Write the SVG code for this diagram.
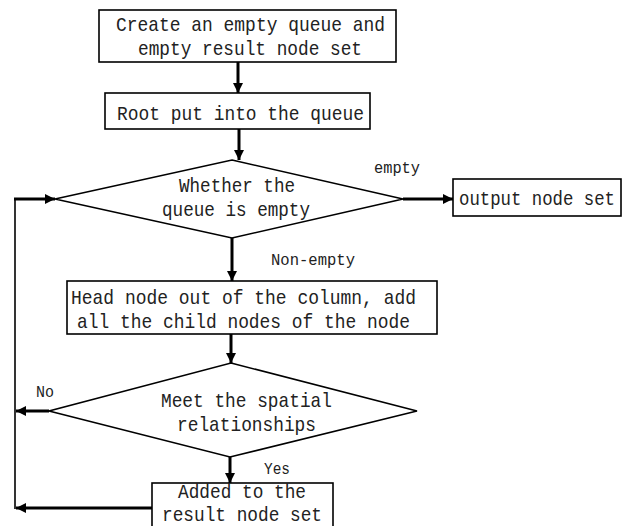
<svg xmlns="http://www.w3.org/2000/svg" width="627" height="526" viewBox="0 0 627 526">
  <style>
    .box { fill: #fff; stroke: #000; stroke-width: 1.6; }
    .txt { font-family: "Liberation Mono", "DejaVu Sans Mono", monospace; font-size: 21px; fill: #222; }
    .lbl { font-family: "Liberation Mono", "DejaVu Sans Mono", monospace; font-size: 17px; fill: #222; }
    .edge { fill: none; stroke: #000; stroke-width: 3; }
    .thin { fill: none; stroke: #000; stroke-width: 1.6; }
  </style>
  <defs>
    <marker id="arrow" viewBox="0 0 10 10" refX="10" refY="5" markerWidth="11" markerHeight="10" markerUnits="userSpaceOnUse" orient="auto">
      <path d="M0,0 L10,5 L0,10 Z" fill="#000"/>
    </marker>
  </defs>

  <rect width="627" height="526" fill="#fff"/>

  <g id="connectors">
    <line class="edge" x1="238" y1="62" x2="238" y2="93" marker-end="url(#arrow)"/>
    <line class="edge" x1="239" y1="129" x2="239" y2="160" marker-end="url(#arrow)"/>
    <line class="edge" x1="403" y1="199" x2="453" y2="199" marker-end="url(#arrow)"/>
    <line class="edge" x1="232" y1="238" x2="232" y2="281" marker-end="url(#arrow)"/>
    <line class="edge" x1="231" y1="334" x2="231" y2="363" marker-end="url(#arrow)"/>
    <line class="edge" x1="230" y1="457" x2="230" y2="483" marker-end="url(#arrow)"/>
    <line class="edge" x1="49" y1="411" x2="16" y2="411" marker-end="url(#arrow)"/>
    <line class="edge" x1="152" y1="508" x2="16" y2="508" marker-end="url(#arrow)"/>
    <line class="thin" x1="15" y1="509" x2="15" y2="198"/>
    <line class="edge" x1="14" y1="199" x2="55" y2="199" marker-end="url(#arrow)"/>
    <text class="lbl" x="374" y="173" textLength="46" lengthAdjust="spacingAndGlyphs">empty</text>
    <text class="lbl" x="271" y="265" textLength="84" lengthAdjust="spacingAndGlyphs">Non-empty</text>
    <text class="lbl" x="36" y="397" textLength="18" lengthAdjust="spacingAndGlyphs">No</text>
    <text class="lbl" x="264" y="474" textLength="26" lengthAdjust="spacingAndGlyphs">Yes</text>
  </g>

  <g id="create">
    <rect class="box" x="99" y="10" width="297" height="52"/>
    <text class="txt" x="116" y="31" textLength="269" lengthAdjust="spacingAndGlyphs">Create an empty queue and</text>
    <text class="txt" x="138" y="55" textLength="224" lengthAdjust="spacingAndGlyphs">empty result node set</text>
  </g>

  <g id="root">
    <rect class="box" x="105" y="93" width="265" height="36"/>
    <text class="txt" x="117" y="120" textLength="247" lengthAdjust="spacingAndGlyphs">Root put into the queue</text>
  </g>

  <g id="is-empty">
    <polygon class="box" points="232,160 403,199 232,238 55,199"/>
    <text class="txt" x="179" y="192" textLength="116" lengthAdjust="spacingAndGlyphs">Whether the</text>
    <text class="txt" x="162" y="216" textLength="148" lengthAdjust="spacingAndGlyphs">queue is empty</text>
  </g>

  <g id="output">
    <rect class="box" x="453" y="179" width="168" height="37"/>
    <text class="txt" x="459" y="205" textLength="156" lengthAdjust="spacingAndGlyphs">output node set</text>
  </g>

  <g id="dequeue">
    <rect class="box" x="67" y="281" width="370" height="53"/>
    <text class="txt" x="71" y="304" textLength="345" lengthAdjust="spacingAndGlyphs">Head node out of the column, add</text>
    <text class="txt" x="77" y="328" textLength="333" lengthAdjust="spacingAndGlyphs">all the child nodes of the node</text>
  </g>

  <g id="spatial-check">
    <polygon class="box" points="231,363 417,411 230,457 49,411"/>
    <text class="txt" x="161" y="407" textLength="171" lengthAdjust="spacingAndGlyphs">Meet the spatial</text>
    <text class="txt" x="177" y="431" textLength="139" lengthAdjust="spacingAndGlyphs">relationships</text>
  </g>

  <g id="add-result">
    <rect class="box" x="152" y="483" width="181" height="46"/>
    <text class="txt" x="178" y="498" textLength="128" lengthAdjust="spacingAndGlyphs">Added to the</text>
    <text class="txt" x="162" y="521" textLength="160" lengthAdjust="spacingAndGlyphs">result node set</text>
  </g>
</svg>
